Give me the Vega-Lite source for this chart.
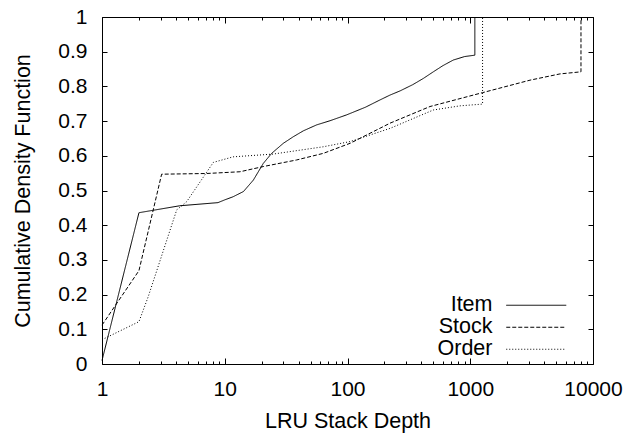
{
  "$schema": "https://vega.github.io/schema/vega-lite/v6.json",
  "width": 491,
  "height": 347,
  "autosize": {"type": "none"},
  "padding": {"left": 102, "top": 17, "right": 38, "bottom": 70},
  "background": "white",
  "config": {
    "view": {"stroke": "black", "strokeWidth": 1},
    "font": "Liberation Sans",
    "axis": {"grid": false, "domain": false, "tickColor": "black", "tickWidth": 1, "labelColor": "black", "titleColor": "black", "labelFont": "Liberation Sans", "titleFont": "Liberation Sans", "labelFontSize": 21, "titleFontSize": 21.5, "titleFontWeight": "normal", "labelFlush": false, "labelOverlap": false, "labelBound": false}
  },
  "data": {
    "values": [
      {"series": "Item", "i": 0, "depth": 1, "cdf": 0.01},
      {"series": "Item", "i": 1, "depth": 2, "cdf": 0.436},
      {"series": "Item", "i": 2, "depth": 4.3, "cdf": 0.456},
      {"series": "Item", "i": 3, "depth": 8.8, "cdf": 0.465},
      {"series": "Item", "i": 4, "depth": 10, "cdf": 0.473},
      {"series": "Item", "i": 5, "depth": 11.7, "cdf": 0.482},
      {"series": "Item", "i": 6, "depth": 14.2, "cdf": 0.497},
      {"series": "Item", "i": 7, "depth": 17.1, "cdf": 0.53},
      {"series": "Item", "i": 8, "depth": 20.6, "cdf": 0.578},
      {"series": "Item", "i": 9, "depth": 24.1, "cdf": 0.607},
      {"series": "Item", "i": 10, "depth": 30, "cdf": 0.636},
      {"series": "Item", "i": 11, "depth": 36.2, "cdf": 0.655},
      {"series": "Item", "i": 12, "depth": 43.7, "cdf": 0.672},
      {"series": "Item", "i": 13, "depth": 56, "cdf": 0.689},
      {"series": "Item", "i": 14, "depth": 72, "cdf": 0.701},
      {"series": "Item", "i": 15, "depth": 98.5, "cdf": 0.718},
      {"series": "Item", "i": 16, "depth": 140, "cdf": 0.74},
      {"series": "Item", "i": 17, "depth": 184, "cdf": 0.761},
      {"series": "Item", "i": 18, "depth": 222, "cdf": 0.775},
      {"series": "Item", "i": 19, "depth": 268, "cdf": 0.787},
      {"series": "Item", "i": 20, "depth": 340, "cdf": 0.805},
      {"series": "Item", "i": 21, "depth": 415, "cdf": 0.823},
      {"series": "Item", "i": 22, "depth": 500, "cdf": 0.842},
      {"series": "Item", "i": 23, "depth": 600, "cdf": 0.86},
      {"series": "Item", "i": 24, "depth": 728, "cdf": 0.876},
      {"series": "Item", "i": 25, "depth": 900, "cdf": 0.886},
      {"series": "Item", "i": 26, "depth": 1090, "cdf": 0.89},
      {"series": "Item", "i": 27, "depth": 1090, "cdf": 1.0},
      {"series": "Stock", "i": 0, "depth": 1, "cdf": 0.112},
      {"series": "Stock", "i": 1, "depth": 2, "cdf": 0.269},
      {"series": "Stock", "i": 2, "depth": 3.06, "cdf": 0.547},
      {"series": "Stock", "i": 3, "depth": 7.1, "cdf": 0.549},
      {"series": "Stock", "i": 4, "depth": 13.3, "cdf": 0.554},
      {"series": "Stock", "i": 5, "depth": 20.6, "cdf": 0.569},
      {"series": "Stock", "i": 6, "depth": 38.5, "cdf": 0.588},
      {"series": "Stock", "i": 7, "depth": 63.5, "cdf": 0.607},
      {"series": "Stock", "i": 8, "depth": 105, "cdf": 0.636},
      {"series": "Stock", "i": 9, "depth": 222, "cdf": 0.694},
      {"series": "Stock", "i": 10, "depth": 470, "cdf": 0.742},
      {"series": "Stock", "i": 11, "depth": 1260, "cdf": 0.782},
      {"series": "Stock", "i": 12, "depth": 3070, "cdf": 0.818},
      {"series": "Stock", "i": 13, "depth": 5380, "cdf": 0.836},
      {"series": "Stock", "i": 14, "depth": 7980, "cdf": 0.842},
      {"series": "Stock", "i": 15, "depth": 7980, "cdf": 1.0},
      {"series": "Order", "i": 0, "depth": 1, "cdf": 0.07},
      {"series": "Order", "i": 1, "depth": 2, "cdf": 0.122},
      {"series": "Order", "i": 2, "depth": 2.38, "cdf": 0.194},
      {"series": "Order", "i": 3, "depth": 4.06, "cdf": 0.444},
      {"series": "Order", "i": 4, "depth": 4.9, "cdf": 0.468},
      {"series": "Order", "i": 5, "depth": 8.07, "cdf": 0.581},
      {"series": "Order", "i": 6, "depth": 11.7, "cdf": 0.597},
      {"series": "Order", "i": 7, "depth": 24.8, "cdf": 0.605},
      {"series": "Order", "i": 8, "depth": 63.5, "cdf": 0.626},
      {"series": "Order", "i": 9, "depth": 105, "cdf": 0.641},
      {"series": "Order", "i": 10, "depth": 222, "cdf": 0.679},
      {"series": "Order", "i": 11, "depth": 500, "cdf": 0.732},
      {"series": "Order", "i": 12, "depth": 826, "cdf": 0.744},
      {"series": "Order", "i": 13, "depth": 1260, "cdf": 0.749},
      {"series": "Order", "i": 14, "depth": 1260, "cdf": 1.0}
    ]
  },
  "layer": [
    {
      "mark": {"type": "line", "strokeWidth": 1, "color": "black"},
      "encoding": {
        "x": {"field": "depth", "type": "quantitative", "scale": {"type": "log", "domain": [1, 10000]},
          "axis": {"orient": "bottom", "values": [1,2,3,4,5,6,7,8,9,10,20,30,40,50,60,70,80,90,100,200,300,400,500,600,700,800,900,1000,2000,3000,4000,5000,6000,7000,8000,9000,10000],
            "tickSize": {"condition": {"test": "indexof([1,10,100,1000,10000], datum.value) >= 0", "value": -6}, "value": -3},
            "labelExpr": "indexof([1,10,100,1000,10000], datum.value) >= 0 ? format(datum.value, 'd') : ''",
            "labelPadding": 20, "title": "LRU Stack Depth", "titlePadding": 8}},
        "y": {"field": "cdf", "type": "quantitative", "scale": {"domain": [0, 1]},
          "axis": {"orient": "left", "values": [0,0.1,0.2,0.3,0.4,0.5,0.6,0.7,0.8,0.9,1], "format": "~g", "tickSize": -5, "labelPadding": 20, "title": "Cumulative Density Function", "titlePadding": 23}},
        "strokeDash": {"field": "series", "type": "nominal",
          "scale": {"domain": ["Item", "Stock", "Order"], "range": [[1, 0], [4, 2], [1, 2]]},
          "legend": {"title": null, "orient": "none", "legendX": 423.5, "legendY": 277.5, "symbolType": "M-3,0H3", "symbolSize": 400, "symbolStrokeWidth": 1, "symbolStrokeColor": "black", "symbolFillColor": "transparent", "labelFontSize": 21.5, "labelFont": "Liberation Sans", "labelColor": "black", "labelAlign": "right", "labelOffset": -54.5, "rowPadding": -2, "padding": 0, "labelLimit": 0}},
        "order": {"field": "i", "type": "quantitative"}
      }
    },
    {
      "mark": {"type": "line", "opacity": 0},
      "encoding": {
        "x": {"field": "depth", "type": "quantitative",
          "axis": {"orient": "top", "values": [1,2,3,4,5,6,7,8,9,10,20,30,40,50,60,70,80,90,100,200,300,400,500,600,700,800,900,1000,2000,3000,4000,5000,6000,7000,8000,9000,10000],
            "tickSize": {"condition": {"test": "indexof([1,10,100,1000,10000], datum.value) >= 0", "value": -6}, "value": -3},
            "labels": false, "title": null}},
        "y": {"field": "cdf", "type": "quantitative",
          "axis": {"orient": "right", "values": [0,0.1,0.2,0.3,0.4,0.5,0.6,0.7,0.8,0.9,1], "tickSize": -5, "labels": false, "title": null}},
        "detail": {"field": "series", "type": "nominal"},
        "order": {"field": "i", "type": "quantitative"}
      }
    }
  ],
  "resolve": {"axis": {"x": "independent", "y": "independent"}}
}
